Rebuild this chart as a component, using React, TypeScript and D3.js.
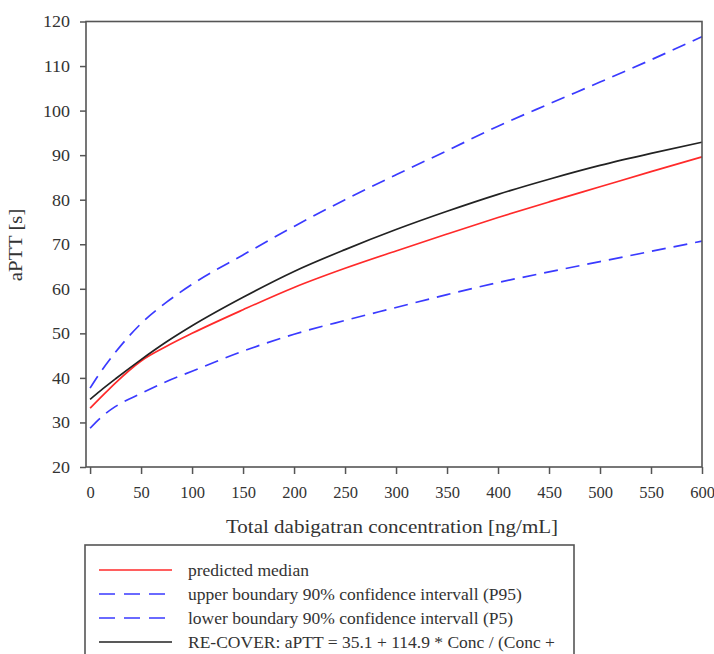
import React, { useEffect, useRef } from 'react';
import * as d3 from 'd3';

// concentration grid (ng/mL) and curves
const conc = [0, 10, 25, 50, 75, 100, 150, 200, 250, 300, 350, 400, 450, 500, 550, 600];
const median = [33.2, 35.5, 38.9, 43.8, 47.1, 50.0, 55.3, 60.3, 64.6, 68.5, 72.3, 76.0, 79.5, 82.9, 86.3, 89.6];
const upperP95 = [37.7, 41.2, 45.8, 52.2, 57.0, 61.0, 67.6, 74.0, 80.0, 85.6, 91.0, 96.5, 101.5, 106.4, 111.4, 116.6];
const lowerP5 = [28.7, 31.0, 33.6, 36.5, 39.2, 41.5, 46.0, 49.8, 52.9, 55.8, 58.7, 61.4, 63.8, 66.1, 68.4, 70.7];
const recover = [35.2, 37.1, 39.8, 44.1, 48.1, 51.7, 58.1, 63.9, 68.8, 73.3, 77.4, 81.2, 84.6, 87.7, 90.4, 92.9];

const xTicks = [0, 50, 100, 150, 200, 250, 300, 350, 400, 450, 500, 550, 600];
const yTicks = [20, 30, 40, 50, 60, 70, 80, 90, 100, 110, 120];

const legendLabels = [
  'predicted median',
  'upper boundary 90% confidence intervall (P95)',
  'lower boundary 90% confidence intervall (P5)',
  'RE-COVER: aPTT = 35.1 + 114.9 * Conc / (Conc +',
];

const FONT = '"Liberation Serif", "Times New Roman", serif';
const RED = '#ff2a2a';
const BLUE = '#3a3aff';
const BLACK = '#222';
const FRAME = '#555';
const TEXT = '#333';

const series = [
  { values: median, color: RED, dash: null },
  { values: upperP95, color: BLUE, dash: '14 8' },
  { values: lowerP5, color: BLUE, dash: '14 8' },
  { values: recover, color: BLACK, dash: null },
];

// the reference's serif text runs a bit wider than Times at the same height
function widenTicks(g: d3.Selection<SVGGElement | null, unknown, null, undefined>, sx: number) {
  g.selectAll<SVGTextElement, unknown>('.tick text').each(function () {
    const t = d3.select(this);
    const x0 = +(t.attr('x') || 0);
    t.attr('x', 0).attr('transform', `translate(${x0},0) scale(${sx},1)`);
  });
}

export default function App() {
  const xAxisRef = useRef<SVGGElement>(null);
  const yAxisRef = useRef<SVGGElement>(null);

  const plotLeft = 86;
  const plotRight = 702;
  const plotTop = 21.5;
  const plotBottom = 467;

  const x = d3.scaleLinear().domain([-4, 600]).range([plotLeft, plotRight]);
  const y = d3.scaleLinear().domain([20, 120]).range([plotBottom, plotTop]);

  const line = d3
    .line<number>()
    .x((d, i) => x(conc[i]))
    .y((d) => y(d))
    .curve(d3.curveMonotoneX);

  useEffect(() => {
    const gx = d3.select(xAxisRef.current);
    gx.selectAll('*').remove();
    gx.call(
      d3.axisBottom(x).tickValues(xTicks).tickSize(7).tickSizeOuter(0).tickPadding(12).tickFormat(d3.format('d'))
    );
    gx.select('.domain').remove();
    gx.selectAll('.tick line').attr('stroke', FRAME).attr('stroke-width', 1.5);
    gx.selectAll('.tick text').attr('fill', TEXT).attr('font-size', 16.5).attr('font-family', FONT);

    const gy = d3.select(yAxisRef.current);
    gy.selectAll('*').remove();
    gy.call(d3.axisLeft(y).tickValues(yTicks).tickSize(6).tickSizeOuter(0).tickPadding(10));
    gy.select('.domain').remove();
    gy.selectAll('.tick line').attr('stroke', FRAME).attr('stroke-width', 1.5);
    gy.selectAll('.tick text').attr('fill', TEXT).attr('font-size', 17).attr('font-family', FONT);
    widenTicks(gy, 1.06);
  }, []);

  const legendTop = 545;
  const rowY = (i: number) => 570 + i * 24;

  return (
    <svg
      width={714}
      height={654}
      style={{ position: 'absolute', left: 0, top: 0, background: '#fff' }}
      fontFamily={FONT}
    >
      <rect x={0} y={0} width={714} height={654} fill="#fff" />

      {series.map((s, i) => (
        <path
          key={i}
          d={line(s.values) || ''}
          fill="none"
          stroke={s.color}
          strokeWidth={1.7}
          strokeDasharray={s.dash || undefined}
        />
      ))}

      <rect
        x={plotLeft}
        y={plotTop}
        width={plotRight - plotLeft}
        height={plotBottom - plotTop}
        fill="none"
        stroke={FRAME}
        strokeWidth={1.6}
      />
      <g ref={xAxisRef} transform={`translate(0,${plotBottom})`} />
      <g ref={yAxisRef} transform={`translate(${plotLeft},0)`} />

      <text
        transform="translate(22,245) rotate(-90) scale(1.15,1)"
        textAnchor="middle"
        fontSize={18}
        fill={TEXT}
      >
        aPTT [s]
      </text>
      <text transform="translate(392,533) scale(1.17,1)" textAnchor="middle" fontSize={18} fill={TEXT}>
        Total dabigatran concentration [ng/mL]
      </text>

      <rect x={85} y={legendTop} width={489} height={140} fill="#fff" stroke={FRAME} strokeWidth={1.6} />
      {legendLabels.map((label, i) => (
        <g key={label}>
          <line
            x1={99}
            x2={172}
            y1={rowY(i)}
            y2={rowY(i)}
            stroke={series[i].color}
            strokeWidth={1.7}
            strokeDasharray={series[i].dash ? '16 9' : undefined}
          />
          <text x={188} y={rowY(i) + 6} fontSize={17.5} fill={TEXT}>
            {label}
          </text>
        </g>
      ))}
    </svg>
  );
}
